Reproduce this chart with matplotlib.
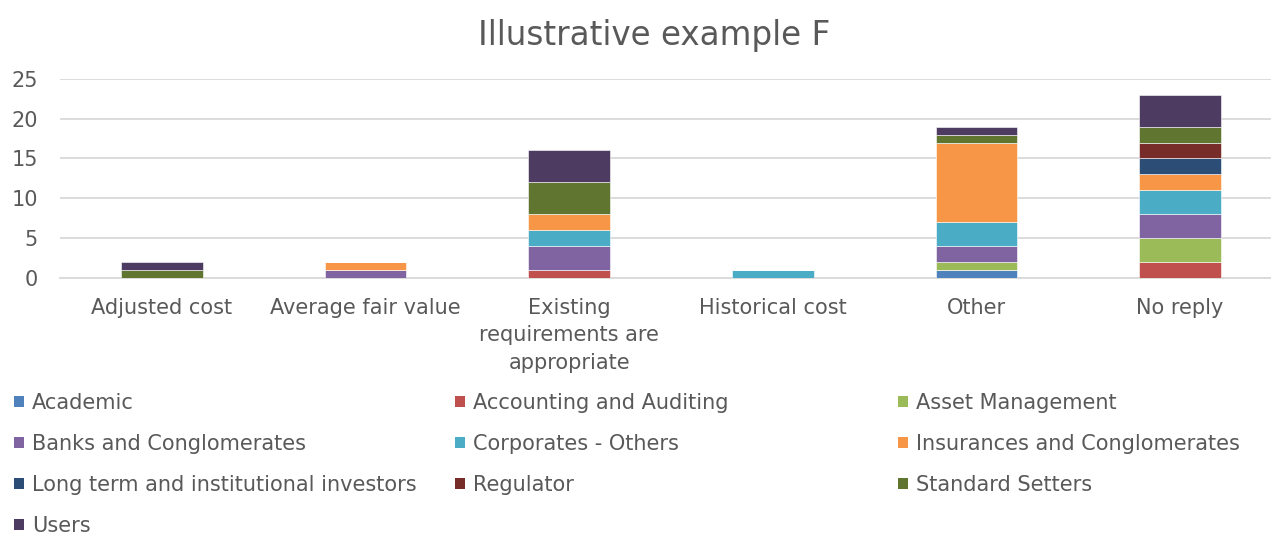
import matplotlib
matplotlib.use("Agg")
import matplotlib.pyplot as plt
from matplotlib.patches import Patch
import numpy as np

plt.rcParams['font.family'] = ['DejaVu Sans']

categories = ["Adjusted cost", "Average fair value", "Existing\nrequirements are\nappropriate",
              "Historical cost", "Other", "No reply"]
series_names = ["Academic", "Accounting and Auditing", "Asset Management",
                "Banks and Conglomerates", "Corporates - Others", "Insurances and Conglomerates",
                "Long term and institutional investors", "Regulator", "Standard Setters", "Users"]
academic = [0, 0, 0, 0, 1, 0]
accounting = [0, 0, 1, 0, 0, 2]
asset_mgmt = [0, 0, 0, 0, 1, 3]
banks = [0, 1, 3, 0, 2, 3]
corporates = [0, 0, 2, 1, 3, 3]
insurances = [0, 1, 2, 0, 10, 2]
long_term = [0, 0, 0, 0, 0, 2]
regulator = [0, 0, 0, 0, 0, 2]
standard_setters = [1, 0, 4, 0, 1, 2]
users = [1, 0, 4, 0, 1, 4]
series_values = [academic, accounting, asset_mgmt, banks, corporates, insurances,
                 long_term, regulator, standard_setters, users]
colors = ["#4F81BD", "#C0504D", "#9BBB59", "#8064A2", "#4BACC6", "#F79646",
          "#2C4D75", "#772C2A", "#5F7530", "#4D3B62"]
yticks = [0, 5, 10, 15, 20, 25]

W, H = 1271, 535
fig = plt.figure(figsize=(W / 100, H / 100), dpi=100)
left, right, y0, y25 = 60, 1282, 277.5, 79
ax = fig.add_axes([left / W, 1 - y0 / H, (right - left) / W, (y0 - y25) / H])

text_color = "#595959"
fs = 15
x = np.arange(len(categories))
bottom = np.zeros(len(categories))
for vals, col in zip(series_values, colors):
    v = np.array(vals, dtype=float)
    ax.bar(x, v, bottom=bottom, width=0.4, color=col, edgecolor="white",
           linewidth=0.4, zorder=3)
    bottom += v

ax.set_xlim(-0.5, len(categories) - 0.5)
ax.set_ylim(0, 25)
ax.set_yticks(yticks)
ax.set_yticklabels([str(t) for t in yticks])
ax.set_xticks(x)
ax.set_xticklabels(categories, linespacing=1.47)
ax.tick_params(axis='x', length=0, pad=14.5, labelsize=fs, labelcolor=text_color)
ax.tick_params(axis='y', length=0, pad=16, labelsize=fs, labelcolor=text_color)
for s in ["top", "right", "left"]:
    ax.spines[s].set_visible(False)
ax.spines["bottom"].set_color("#D9D9D9")
ax.spines["bottom"].set_linewidth(1.3)
ax.yaxis.grid(True, color="#D9D9D9", linewidth=1.3, zorder=0)
ax.set_axisbelow(True)

fig.text(654 / W, 1 - 36 / H, "Illustrative example F", ha="center", va="center",
         fontsize=23.5, color=text_color)

col_x = [14, 455, 898]
row_y = [403, 444, 485, 526]
for i, (name, col) in enumerate(zip(series_names, colors)):
    cx = col_x[i % 3]
    ry = row_y[i // 3]
    fig.legend(handles=[Patch(facecolor=col, edgecolor="none")], labels=[name],
               loc="center left", bbox_to_anchor=(cx / W, 1 - ry / H),
               frameon=False, fontsize=fs, labelcolor=text_color,
               handlelength=0.48, handleheight=0.48, handletextpad=0.38,
               borderpad=0, borderaxespad=0)

fig.savefig("out.png", dpi=100)
